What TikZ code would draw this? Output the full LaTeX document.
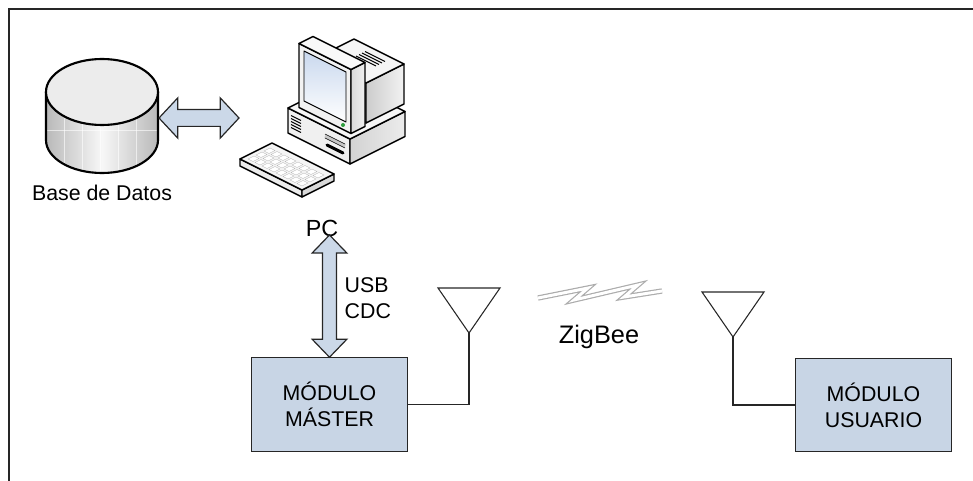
\documentclass[tikz,border=0pt]{standalone}
\usepackage{fontspec}
\setmainfont{Liberation Sans}
\usetikzlibrary{positioning,calc}
\usepackage{xcolor}
\definecolor{modfill}{HTML}{C8D5E5}
\definecolor{arrowfill}{HTML}{CBD8E8}
\definecolor{screenblue}{HTML}{C9D8EE}
\definecolor{led}{HTML}{2E9E3E}

\tikzset{
  module/.style={draw=black!85,fill=modfill,line width=0.9pt,minimum width=117pt,
    minimum height=70pt,align=center,font=\fontsize{16}{19.5}\selectfont},
  bigarrow/.style={draw=black!85,fill=arrowfill,line width=0.9pt,line join=miter},
  wire/.style={draw=black!85,line width=0.8pt},
  pcline/.style={draw=black,line width=1.1pt,line join=round},
  key/.style={draw=gray!55,fill=white,line width=0.3pt},
  bolt/.style={draw=gray!65,line width=0.9pt,double=white,double distance=2.2pt,line join=miter},
}

% isometric box: origin x, origin y, length, depth, height, front, side, top
\newcommand{\isobox}[8]{%
  \draw[pcline,#6] (#1,#2) -- ++({#3},{#3/2}) -- ++(0,{-#5}) -- ++({-#3},{-#3/2}) -- cycle;
  \draw[pcline,#7] ({#1+#3},{#2+#3/2}) -- ++({#4},{-#4/2}) -- ++(0,{-#5}) -- ++({-#4},{#4/2}) -- cycle;
  \draw[pcline,#8] (#1,{#2-#5}) -- ++({#3},{#3/2}) -- ++({#4},{-#4/2}) -- ++({-#3},{-#3/2}) -- cycle;
}

% fat double arrow between two tips: head length, half head width, half shaft width
\newcommand{\fatarrow}[5]{%
  \draw[bigarrow] (#1) -- ($(#1)!#3!(#2)!#4!90:(#2)$) -- ($(#1)!#3!(#2)!#5!90:(#2)$)
    -- ($(#2)!#3!(#1)!#5!-90:(#1)$) -- ($(#2)!#3!(#1)!#4!-90:(#1)$) -- (#2)
    -- ($(#2)!#3!(#1)!#4!90:(#1)$) -- ($(#2)!#3!(#1)!#5!90:(#1)$)
    -- ($(#1)!#3!(#2)!#5!-90:(#2)$) -- ($(#1)!#3!(#2)!#4!-90:(#2)$) -- cycle;
}

\begin{document}
\begin{tikzpicture}[x=0.75pt,y=-0.75pt]
  \useasboundingbox (0,0) rectangle (973,481);

  % frame
  \draw[black!85,line width=1.4pt] (9,481) -- (9,9) -- (973,9);

  % Database
  \begin{scope}
    \clip (46,92) -- (46,140) arc[start angle=180,end angle=0,x radius=56,y radius=33] -- (158,92) -- cycle;
    \fill[left color=gray!55,right color=gray!55,middle color=gray!6] (46,58) rectangle (158,175);
    \foreach \x in {64,82,100,118,136}
      \draw[white,opacity=0.6,line width=0.6pt] (\x,92) -- (\x,175);
    \draw[white,opacity=0.6,line width=0.6pt] (46,130) -- (158,130);
  \end{scope}
  \draw[black,line width=1.6pt] (46,92) -- (46,140) arc[start angle=180,end angle=0,x radius=56,y radius=33] -- (158,92);
  \draw[black,line width=1.6pt,fill=gray!15] (102,92) ellipse[x radius=56,y radius=33];
  \node[font=\fontsize{16}{19}\selectfont] (dblabel) at (102,193) {Base de Datos};

  % PC: base unit, monitor, keyboard
  \isobox{288}{133}{62}{55}{25}{fill=gray!12}{left color=gray!35,right color=gray!15}{fill=gray!6}
  \foreach \z in {7,10,13,16,19}
    \draw[black,line width=0.7pt] (291,{134.5-\z}) -- ++(10,5);
  \draw[gray!45,line width=2.5pt] (325,136) -- ++(20,10);
  \draw[black,line width=0.4pt] (325,134) -- ++(20,10) (325,138) -- ++(20,10);
  \draw[black,line width=2.2pt,line cap=round] (327,145) -- ++(16,8);
  \isobox{316}{98}{50}{38}{40}{fill=gray!20}{left color=gray!40,right color=gray!10}{fill=gray!8}
  \foreach \d in {22,25,28,31}
    \draw[black,line width=0.7pt] ({316+18+\d},{98+9-\d/2-40}) -- ++(20,10);
  \isobox{299}{107.5}{52}{14}{64}{fill=gray!10}{left color=gray!30,right color=gray!12}{fill=gray!5}
  \draw[pcline,line width=0.7pt,top color=screenblue,bottom color=white]
    (304,101) -- (346,122) -- (346,72) -- (304,51) -- cycle;
  \fill[led] (343,125) circle[radius=2];
  \isobox{240}{166}{62}{32}{7}{fill=gray!15}{fill=gray!30}{fill=gray!8}
  \foreach \i in {0,...,7}
    \foreach \j in {0,...,2}
      \draw[key] ({248+7*\i+8*\j},{159+(4+7*\i)/2-(4+8*\j)/2}) -- ++(5,2.5) -- ++(6,-3) -- ++(-5,-2.5) -- cycle;
  \node[font=\fontsize{17.5}{21}\selectfont] (pc) at (322,228) {PC};

  % links to the PC
  \coordinate (dbport) at (159,118);
  \coordinate (pcport) at (239,118);
  \fatarrow{dbport}{pcport}{14pt}{15pt}{6.3pt}
  \node[module] (master) at (329.5,404.5) {MÓDULO\\MÁSTER};
  \coordinate (usbtop) at (329.5,235);
  \fatarrow{usbtop}{master.north}{13.5pt}{13pt}{5.2pt}
  \node[anchor=west,align=left,font=\fontsize{16}{20}\selectfont] (usb) at (340,298) {USB\\CDC};

  % antennas
  \node[module] (user) at (873.5,405) {MÓDULO\\USUARIO};
  \coordinate (ant1) at (469,333);
  \coordinate (ant2) at (733,337);
  \draw[wire] (master.east) -| (ant1);
  \draw[wire] (ant1) -- ++(-31,-45) -- ++(62,0) -- cycle;
  \draw[wire] (user.west) -| (ant2);
  \draw[wire] (ant2) -- ++(-31,-45) -- ++(62,0) -- cycle;

  % radio link
  \draw[bolt] (538,298) -- (588,288) -- (574,300) -- (638,285) -- (624,297) -- (662,291);
  \node[font=\fontsize{19}{22}\selectfont] (zigbee) at (599,337) {ZigBee};
\end{tikzpicture}
\end{document}
